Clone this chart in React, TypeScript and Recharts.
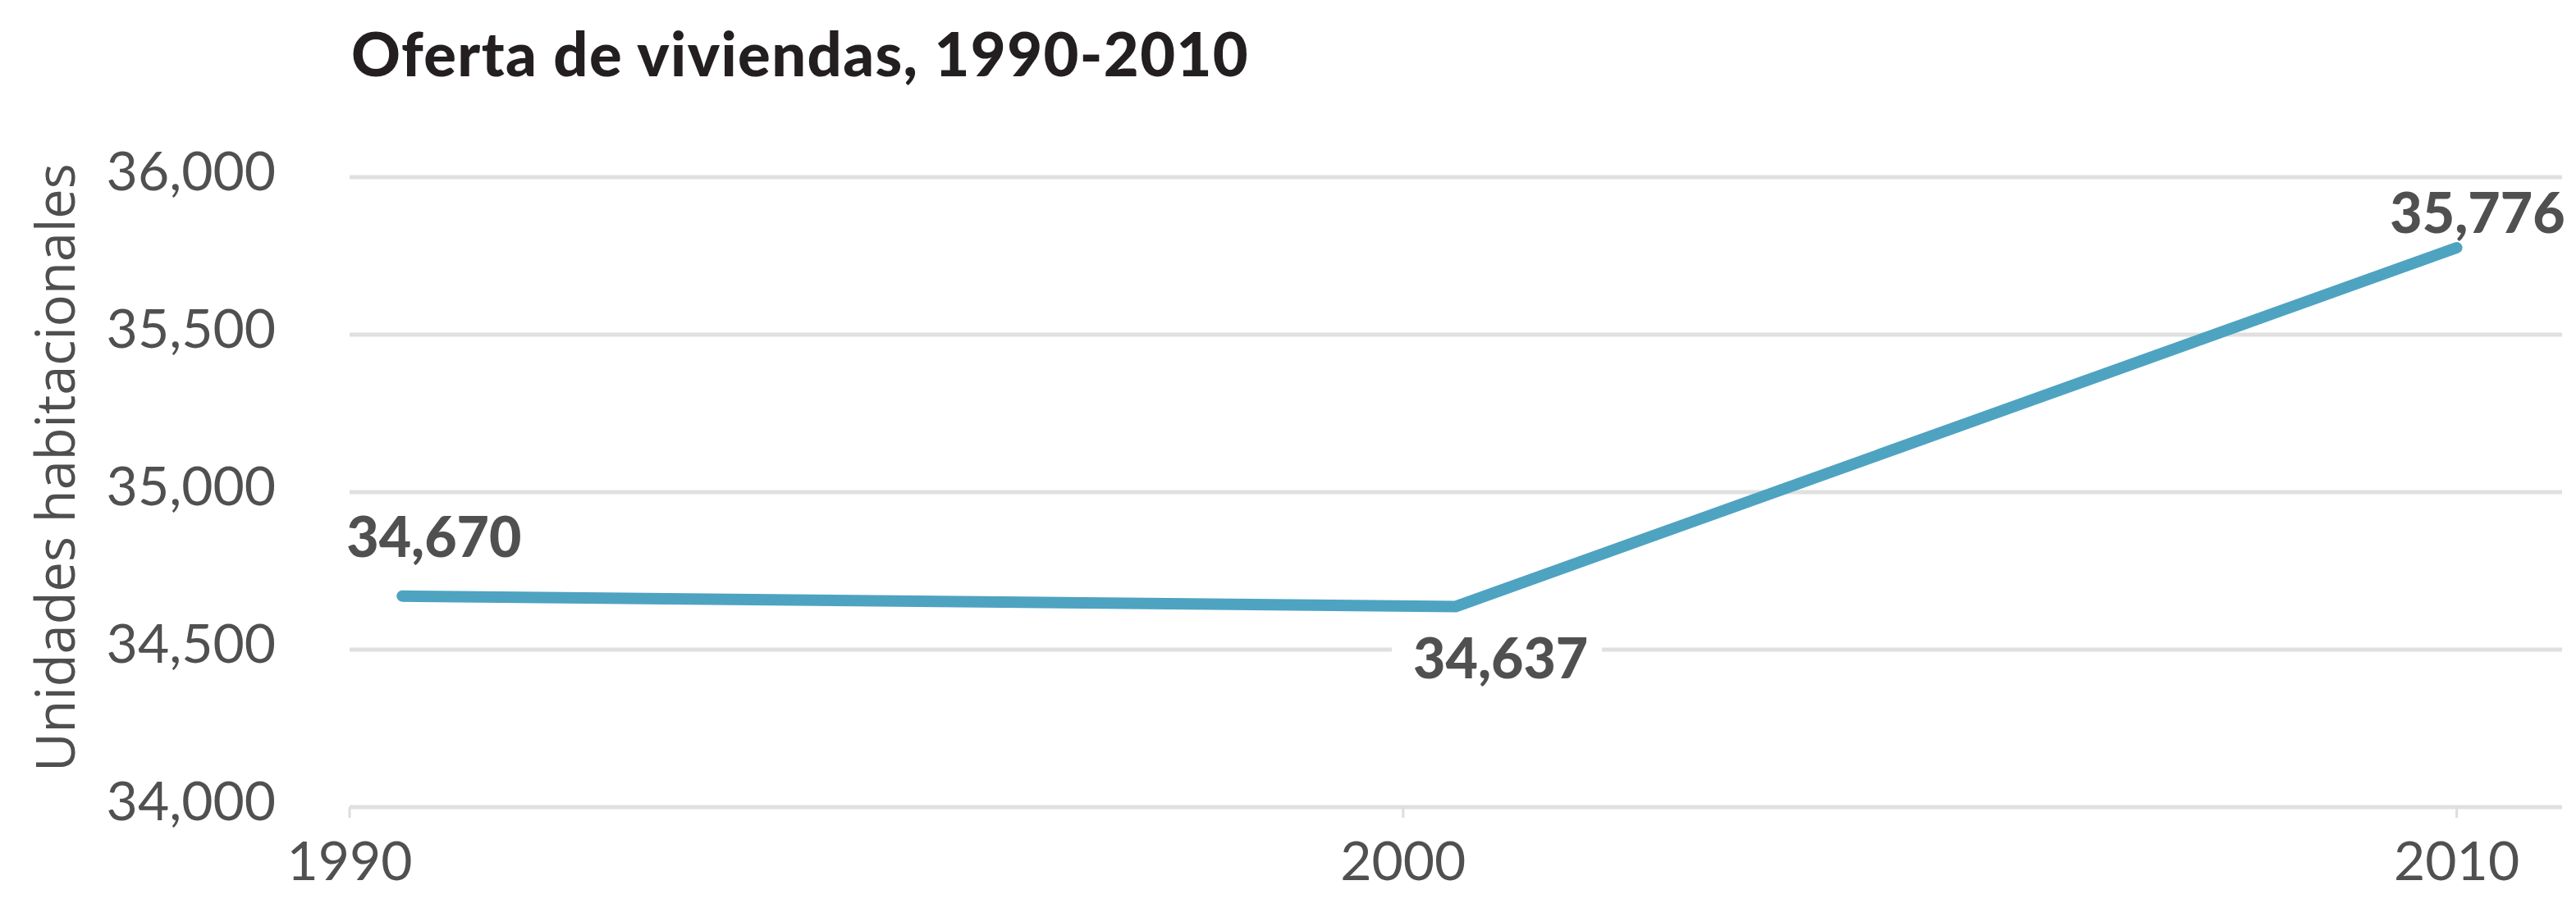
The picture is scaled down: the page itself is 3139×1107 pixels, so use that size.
import { LineChart, Line, XAxis, YAxis, CartesianGrid, LabelList } from "recharts";

// census points sit a little right of the 1990 and 2000 ticks in the original
const years = [1990.5, 2000.5, 2010];
const viviendas = [34670, 34637, 35776];
const valueLabels = ["34,670", "34,637", "35,776"];
const yTicks = [34000, 34500, 35000, 35500, 36000];
const xTicks = [1990, 2000, 2010];

const data = years.map((year, i) => ({
  year,
  viviendas: viviendas[i],
  label: valueLabels[i],
}));

const GREY = "#505050";

const YTick = ({ x, y, payload }: any) => (
  <text
    x={x - 82}
    y={y + 16}
    textAnchor="end"
    fontFamily="Lato"
    fontSize={66}
    fill={GREY}
  >
    {payload.value.toLocaleString("en-US")}
  </text>
);

const XTick = ({ x, y, payload }: any) => (
  <text
    x={x}
    y={y + 74}
    textAnchor="middle"
    fontFamily="Lato"
    fontSize={66}
    fill={GREY}
  >
    {payload.value}
  </text>
);

const YTitle = () => (
  <text
    transform="translate(66, 570) rotate(-90)"
    textAnchor="middle"
    dominantBaseline="central"
    fontFamily="Open Sans"
    fontSize={65}
    fill="#4f4f4f"
  >
    Unidades habitacionales
  </text>
);

// where each value label sits relative to its point
const labelPlacement = [
  { dx: -68, dy: -48, anchor: "start", box: false },
  { dx: -52, dy: 88, anchor: "start", box: true },
  { dx: 132, dy: -18, anchor: "end", box: false },
];

const renderLabel = (props: any) => {
  const { x, y, value, index } = props;
  const p = labelPlacement[index];
  return (
    <g>
      {p.box && (
        <rect x={x - 78} y={y + 28} width={256} height={74} fill="#ffffff" />
      )}
      <text
        x={x + p.dx}
        y={y + p.dy}
        textAnchor={p.anchor}
        fontFamily="Lato"
        fontWeight={900}
        fontSize={68}
        fill={GREY}
      >
        {value}
      </text>
    </g>
  );
};

export default function App() {
  return (
    <div
      style={{
        position: "absolute",
        left: 0,
        top: 0,
        width: 3139,
        height: 1107,
        background: "#ffffff",
      }}
    >
      <div
        style={{
          position: "absolute",
          left: 428,
          top: 20,
          fontFamily: "Lato",
          fontWeight: 900,
          fontSize: 74,
          letterSpacing: 1.4,
          color: "#231f20",
          whiteSpace: "nowrap",
        }}
      >
        Oferta de viviendas, 1990-2010
      </div>
      <LineChart
        width={3139}
        height={1107}
        data={data}
        margin={{ top: 216, right: 17, bottom: 0, left: 0 }}
      >
        <CartesianGrid
          horizontal={true}
          vertical={false}
          stroke="#e0e0e0"
          strokeWidth={5}
        />
        <XAxis
          dataKey="year"
          type="number"
          domain={[1990, 2011]}
          ticks={xTicks}
          height={123}
          axisLine={false}
          tickLine={{ stroke: "#dddddd", strokeWidth: 3 }}
          tickSize={13}
          tick={<XTick />}
          interval={0}
        />
        <YAxis
          type="number"
          domain={[34000, 36000]}
          ticks={yTicks}
          width={426}
          axisLine={false}
          tickLine={false}
          tick={<YTick />}
          interval={0}
          label={{ content: <YTitle /> }}
        />
        <Line
          type="linear"
          dataKey="viviendas"
          stroke="#4ea3c1"
          strokeWidth={14}
          strokeLinecap="round"
          dot={false}
          activeDot={false}
          isAnimationActive={false}
        >
          <LabelList dataKey="label" content={renderLabel} />
        </Line>
      </LineChart>
    </div>
  );
}
